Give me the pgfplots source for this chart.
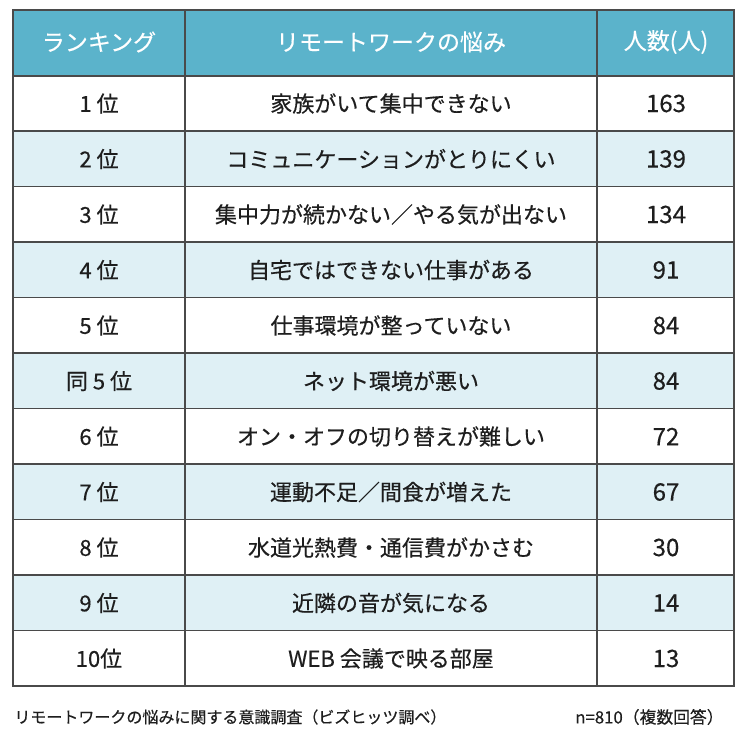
\documentclass[border=0pt]{standalone}
\usepackage{fontspec}
\setmainfont{Noto Sans CJK JP}[FakeBold=0.4]
\usepackage{pgfplots}
\usepackage{pgfplotstable}
\pgfplotsset{compat=1.18}
\definecolor{hdr}{HTML}{5BB3CB}
\definecolor{alt}{HTML}{DFF0F5}
\definecolor{gridc}{HTML}{4A4A4A}
\definecolor{txt}{HTML}{1E1E1E}
\pgfplotstableread[col sep=comma]{
y,rank,item,count
103.5,1 位,家族がいて集中できない,163
159,2 位,コミュニケーションがとりにくい,139
214.5,3 位,集中力が続かない／やる気が出ない,134
270,4 位,自宅ではできない仕事がある,91
325.5,5 位,仕事環境が整っていない,84
381,同 5 位,ネット環境が悪い,84
436.5,6 位,オン・オフの切り替えが難しい,72
492,7 位,運動不足／間食が増えた,67
547.5,8 位,水道光熱費・通信費がかさむ,30
603,9 位,近隣の音が気になる,14
658.5,10位,WEB 会議で映る部屋,13
}\data
\begin{document}
\begin{tikzpicture}
\begin{axis}[scale only axis, width=373.5pt, height=371pt,
  xmin=0, xmax=747, ymin=0, ymax=742, y dir=reverse, hide axis, clip=false]
\path (axis cs:0,0) rectangle (axis cs:747,742);
% header and alternating rows
\fill[hdr] (axis cs:13,10) rectangle (axis cs:734,76);
\pgfplotsinvokeforeach{131,242,353,464,575}{
  \fill[alt] (axis cs:13,#1) rectangle (axis cs:734,#1+55.5);
}
% grid
\pgfplotsinvokeforeach{76,131,186.5,242,297.5,353,408.5,464,519.5,575,630.5}{
  \draw[gridc, line width=0.7pt] (axis cs:13,#1) -- (axis cs:734,#1);
}
\draw[gridc, line width=0.7pt] (axis cs:185,10) -- (axis cs:185,686);
\draw[gridc, line width=0.7pt] (axis cs:597,10) -- (axis cs:597,686);
\draw[gridc, line width=0.8pt] (axis cs:13,10) rectangle (axis cs:734,686);
% header text
\node[text=white, font=\fontsize{11.5}{13}\selectfont] at (axis cs:99,42) {ランキング};
\node[text=white, font=\fontsize{11.5}{13}\selectfont] at (axis cs:391,42) {リモートワークの悩み};
\node[text=white, font=\fontsize{11.5}{13}\selectfont] at (axis cs:666,42) {人数(人)};
% data
\addplot[draw=none, mark=none, nodes near coords, point meta=explicit symbolic,
  nodes near coords style={anchor=center, text=txt, font=\fontsize{11}{13}\selectfont}]
  table[x expr={99}, y=y, meta=rank]{\data};
\addplot[draw=none, mark=none, nodes near coords, point meta=explicit symbolic,
  nodes near coords style={anchor=center, text=txt, font=\fontsize{11}{13}\selectfont}]
  table[x expr={391}, y=y, meta=item]{\data};
\addplot[draw=none, mark=none, nodes near coords, point meta=explicit symbolic,
  nodes near coords style={anchor=center, text=txt, font=\fontsize{12}{13}\selectfont}]
  table[x expr={666}, y=y, meta=count]{\data};
% footer
\node[anchor=west, text=txt, font=\fontsize{8}{9}\selectfont, inner sep=0pt] at (axis cs:14,717) {リモートワークの悩みに関する意識調査（ビズヒッツ調べ）};
\node[anchor=east, text=txt, font=\fontsize{8.4}{9}\selectfont, inner sep=0pt] at (axis cs:724,717) {n=810（複数回答）};
\end{axis}
\end{tikzpicture}
\end{document}
